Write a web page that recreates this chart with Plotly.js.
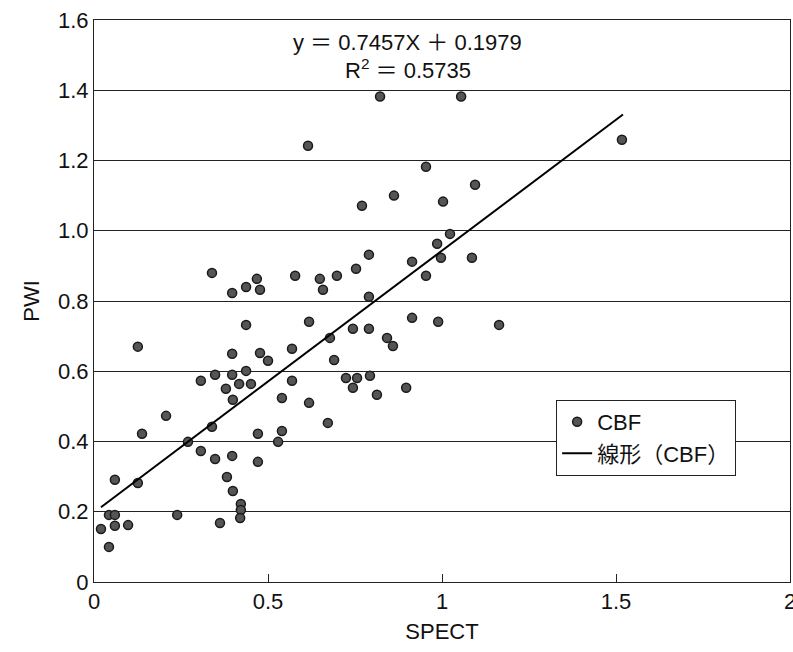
<!DOCTYPE html>
<html>
<head>
<meta charset="utf-8">
<script src="https://cdn.plot.ly/plotly-3.0.1.min.js"></script>
<style>body{margin:0;padding:0;background:#fff;}#chart{width:793px;height:652px;}</style>
</head>
<body>
<div id="chart"></div>
<script>
var spectX = [0.020,0.043,0.043,0.060,0.060,0.098,0.060,0.126,0.239,0.362,0.399,0.422,0.422,0.420,0.382,
  0.126,0.397,0.477,0.500,0.437,0.348,0.397,0.307,0.417,0.451,0.379,0.399,0.207,0.339,0.138,0.471,0.270,0.307,0.348,0.397,0.471,
  0.790,0.339,0.753,0.468,0.437,0.477,0.397,0.578,0.649,0.698,0.658,0.790,0.437,0.618,0.744,0.790,0.678,0.569,0.690,0.569,0.724,0.756,0.793,0.744,0.813,0.540,0.618,0.672,0.540,0.529,
  1.023,0.986,1.086,0.997,0.914,0.954,0.914,0.989,0.842,0.859,0.897,0.822,1.055,0.954,1.095,0.862,1.003,1.517,1.164,0.615,0.770];
var pwiY = [0.151,0.100,0.191,0.191,0.160,0.162,0.291,0.282,0.191,0.168,0.259,0.222,0.205,0.182,0.299,
  0.670,0.650,0.652,0.630,0.601,0.590,0.590,0.573,0.564,0.564,0.550,0.519,0.473,0.442,0.422,0.422,0.399,0.373,0.350,0.359,0.342,
  0.932,0.880,0.892,0.863,0.840,0.832,0.823,0.872,0.863,0.872,0.832,0.812,0.732,0.741,0.721,0.721,0.695,0.664,0.632,0.573,0.581,0.581,0.587,0.553,0.533,0.524,0.510,0.453,0.430,0.399,
  0.991,0.963,0.923,0.923,0.912,0.872,0.752,0.741,0.695,0.672,0.553,1.382,1.382,1.182,1.131,1.100,1.083,1.259,0.732,1.242,1.071];
var trendX = [0.02, 1.52];
var trendY = [0.213, 1.331];
var xTicks = [0, 0.5, 1, 1.5, 2];
var xTickLabels = ["0", "0.5", "1", "1.5", "2"];
var yTicks = [0, 0.2, 0.4, 0.6, 0.8, 1.0, 1.2, 1.4, 1.6];
var yTickLabels = ["0", "0.2", "0.4", "0.6", "0.8", "1.0", "1.2", "1.4", "1.6"];
var eqText = "y ＝ 0.7457X ＋ 0.1979";
var r2Text = "R<sup>2</sup> ＝ 0.5735";

var font = "Liberation Sans Narrow, Arial Narrow, Liberation Sans, Noto Sans CJK JP, sans-serif";
var data = [
  {x: spectX, y: pwiY, type: "scatter", mode: "markers", name: "CBF",
   marker: {size: 9, color: "#555", line: {color: "#1a1a1a", width: 1.5}}},
  {x: trendX, y: trendY, type: "scatter", mode: "lines", name: "線形（CBF）",
   line: {color: "#000", width: 2}}
];
var layout = {
  width: 793, height: 652,
  margin: {l: 94, r: 3, t: 20, b: 70},
  paper_bgcolor: "#fff", plot_bgcolor: "#fff",
  font: {family: font, size: 22, color: "#111"},
  showlegend: true,
  legend: {x: 0.664, y: 0.324, xanchor: "left", yanchor: "top",
    bgcolor: "#fff", bordercolor: "#222", borderwidth: 1,
    font: {family: font, size: 22, color: "#111"}, itemwidth: 30, tracegroupgap: 4},
  xaxis: {range: [0, 2], tickvals: xTicks, ticktext: xTickLabels, ticklabeloverflow: "allow",
    ticks: "inside", ticklen: 8, tickcolor: "#222", showgrid: false, zeroline: false,
    showline: true, linecolor: "#222", linewidth: 1, mirror: true,
    tickfont: {family: font, size: 22},
    title: {text: "SPECT", font: {family: font, size: 22}, standoff: 10}},
  yaxis: {range: [0, 1.6], tickvals: yTicks, ticktext: yTickLabels,
    ticks: "", showgrid: true, gridcolor: "#222", gridwidth: 1, zeroline: false,
    showline: true, linecolor: "#222", linewidth: 1, mirror: true,
    tickfont: {family: font, size: 22},
    title: {text: "PWI", font: {family: font, size: 22}, standoff: 12}},
  annotations: [
    {text: eqText, xref: "paper", yref: "paper", x: 0.451, y: 0.96, showarrow: false,
     xanchor: "center", yanchor: "middle", font: {family: font, size: 22, color: "#111"}},
    {text: r2Text, xref: "paper", yref: "paper", x: 0.451, y: 0.913, showarrow: false,
     xanchor: "center", yanchor: "middle", font: {family: font, size: 22, color: "#111"}}
  ]
};
Plotly.newPlot("chart", data, layout, {displayModeBar: false, staticPlot: true});
</script>
</body>
</html>
